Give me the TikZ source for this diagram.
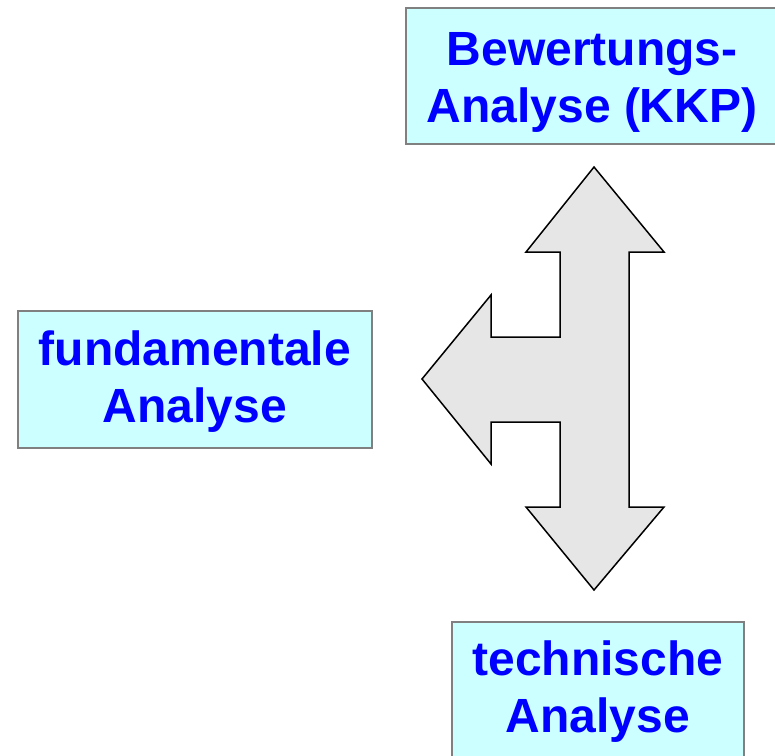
\documentclass[tikz,border=0pt]{standalone}
\usepackage{fontspec}
\setmainfont{Liberation Sans}
\definecolor{boxfill}{HTML}{CCFFFF}
\definecolor{boxline}{HTML}{808080}
\definecolor{arrowfill}{HTML}{E6E6E6}
\tikzset{
  analysebox/.style={draw=boxline, line width=2pt, fill=boxfill, text=blue, align=center, inner sep=0pt, text height=101pt, font=\fontsize{48}{57}\selectfont\bfseries},
}
\begin{document}
\begin{tikzpicture}[x=1pt,y=-1pt]
\useasboundingbox (0,0) rectangle (775,755);

\node[analysebox, text depth=9pt, minimum width=372, minimum height=136] (bewertung) at (592,76) {Bewertungs-\\Analyse (KKP)};
\node[analysebox, text depth=16pt, minimum width=354, minimum height=137] (fundamental) at (195,379.5) {fundamentale\\Analyse};
\node[analysebox, text depth=18pt, minimum width=292, minimum height=137] (technisch) at (598,690.5) {technische\\Analyse};


\draw[fill=arrowfill, line width=1.5pt, line join=miter]
  (594,167) -- (664,252) -- (629,252) -- (629,507) -- (664,507) -- (594,590)
  -- (526,507) -- (560,507) -- (560,422) -- (491,422) -- (491,464) -- (422,379)
  -- (491,295) -- (491,337) -- (560,337) -- (560,252) -- (526,252) -- cycle;
\end{tikzpicture}
\end{document}
